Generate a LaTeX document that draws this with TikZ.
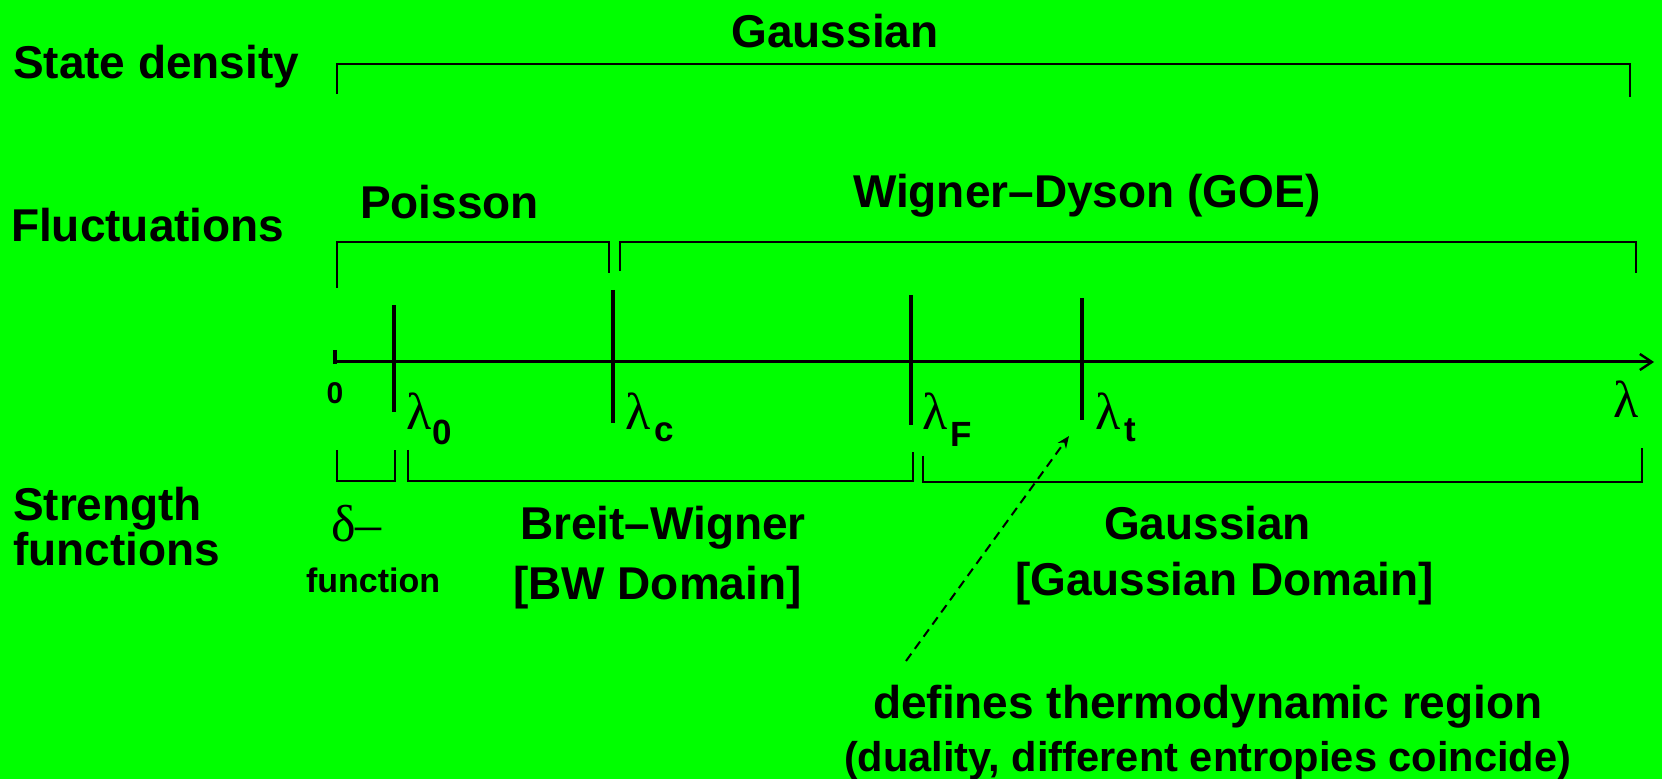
\documentclass[tikz,border=0pt]{standalone}
\usepackage{fontspec}
\setmainfont{Liberation Sans}
\newfontfamily\grk{Liberation Serif}
\usetikzlibrary{arrows.meta}
\definecolor{bggreen}{RGB}{0,255,0}
\newcommand{\fs}[1]{\fontsize{#1}{#1}\selectfont}
\newcommand{\subf}{\normalfont\bfseries\fs{17.5pt}}
\begin{document}
\begin{tikzpicture}[x=0.5pt,y=-0.5pt,
  lbl/.style={inner sep=0pt,outer sep=0pt,font=\bfseries\fs{23pt}},
  lam/.style={inner sep=0pt,outer sep=0pt,font=\grk\fs{26pt}},
  brk/.style={line width=1pt,line join=miter},
  tick/.style={line width=2pt},
  axis/.style={line width=1.5pt,-{Straight Barb[length=6pt,width=8pt,line width=1.2pt]}},
  dasharrow/.style={line width=1pt,dash pattern=on 4.5pt off 3pt,-{Stealth[length=6pt,width=5pt]}}]
\useasboundingbox (0,0) rectangle (1662,779);
\fill[bggreen] (0,0) rectangle (1662,779);

% row labels
\node[lbl,anchor=base west] (sd) at (13,79) {State density};
\node[lbl,anchor=base west] (fl) at (11,242) {Fluctuations};
\node[lbl,anchor=base west] (st) at (13,521) {Strength};
\node[lbl,anchor=base west] (sf) at (13,566) {functions};

% state density
\node[lbl,anchor=base] (gtop) at (835,48) {Gaussian};
\draw[brk] (337,94) -- (337,64) -- (1630,64) -- (1630,97);

% fluctuations
\node[lbl,anchor=base west] (poi) at (360,219) {Poisson};
\node[lbl,anchor=base west] (wd) at (853,208) {Wigner--Dyson (GOE)};
\draw[brk] (337,288) -- (337,242) -- (609,242) -- (609,273);
\draw[brk] (620,271) -- (620,242) -- (1636,242) -- (1636,273);

% axis
\coordinate (ax0) at (335,362);
\coordinate (axend) at (1654,362);
\draw[axis] (ax0) -- (axend);
\draw[tick] (335,350) -- (335,364);
\draw[tick] (394,305) -- (394,412);
\draw[tick] (613,290) -- (613,423);
\draw[tick] (911,295) -- (911,425);
\coordinate (tT) at (1082,298);
\coordinate (bT) at (1082,420);
\draw[tick] (tT) -- (bT);

\node[inner sep=0pt,font=\bfseries\fs{15pt},anchor=base] (zero) at (335,404) {0};
\node[lam,anchor=base west] (l0) at (406,430) {λ\kern0.5pt\raisebox{-7.5pt}{\subf 0}};
\node[lam,anchor=base west] (lc) at (625,430) {λ\kern2pt\raisebox{-6pt}{\subf c}};
\node[lam,anchor=base west] (lF) at (922,430) {λ\kern1.5pt\raisebox{-8.5pt}{\subf F}};
\node[lam,anchor=base west] (lt) at (1095,430) {λ\kern2pt\raisebox{-6pt}{\subf t}};
\node[lam,anchor=base west] (lam) at (1613,418) {λ};

% strength functions
\draw[brk] (337,450) -- (337,481) -- (395,481) -- (395,450);
\draw[brk] (408,450) -- (408,481) -- (913,481) -- (913,452);
\draw[brk] (923,456) -- (923,482) -- (1642,482) -- (1642,448);

\node[lam,anchor=base west,font=\grk\fs{26pt}] (delta) at (331,542) {δ–};
\node[lbl,anchor=base west,font=\bfseries\fs{17pt}] (fn) at (306,593) {function};
\node[lbl,anchor=base west] (bw) at (520,540) {Breit--Wigner};
\node[lbl,anchor=base west] (bwd) at (513,600) {[BW Domain]};
\node[lbl,anchor=base west] (ga) at (1104,540) {Gaussian};
\node[lbl,anchor=base west] (gad) at (1015,596) {[Gaussian Domain]};

% thermodynamic region
\node[lbl,anchor=base west] (def) at (873,719) {defines thermodynamic region};
\node[lbl,anchor=base west,font=\bfseries\fs{20.8pt}] (dual) at (844,772) {(duality, different entropies coincide)};
\coordinate (dstart) at (906,661);
\coordinate (dend) at (1069,436);
\draw[dasharrow] (dstart) -- (dend);
\end{tikzpicture}
\end{document}
